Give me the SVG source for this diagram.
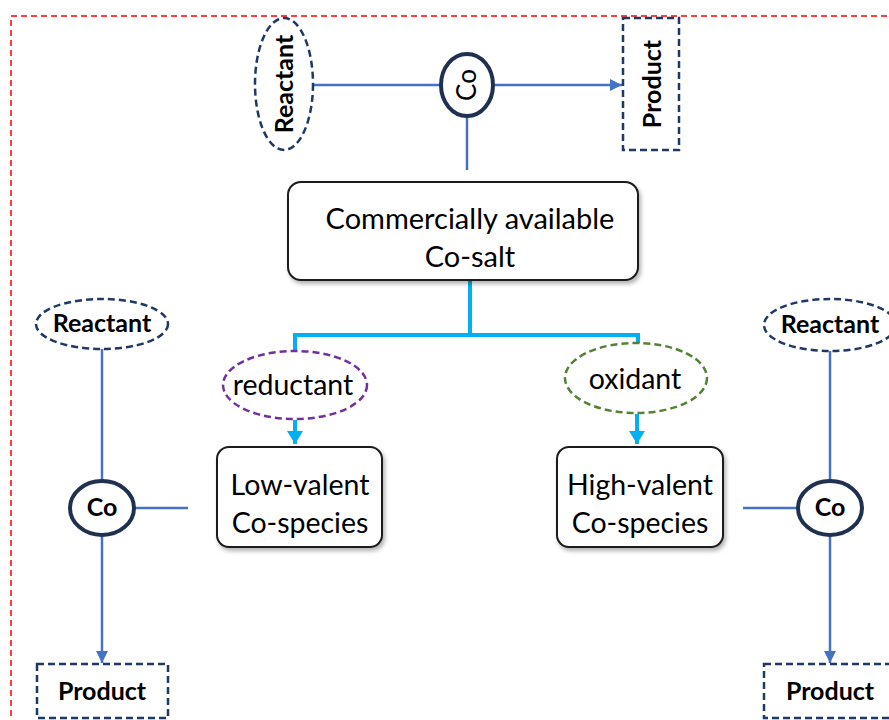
<svg xmlns="http://www.w3.org/2000/svg" width="889" height="720" viewBox="0 0 889 720">
  <defs>
    <style>
      .lbl { font-family: Lato, "Open Sans", "Liberation Sans", sans-serif; fill: #000; text-anchor: middle; }
      .bold { font-weight: bold; font-size: 25px; }
      .big { font-size: 29px; }
      .mid { font-size: 28.5px; }
      .navy { fill: #fff; stroke: #1f3864; stroke-width: 2.5; stroke-dasharray: 7 4; }
      .cocircle { fill: #fff; stroke: #1f3050; stroke-width: 4; }
      .box { fill: #fff; stroke: #1a1a1a; stroke-width: 2; filter: url(#shadow); }
      .blue { stroke: #4472c4; stroke-width: 2.5; fill: none; }
      .cyan { stroke: #00b0f0; stroke-width: 4; fill: none; }
    </style>
    <filter id="shadow" x="-10%" y="-10%" width="130%" height="140%">
      <feDropShadow dx="2" dy="3" stdDeviation="2" flood-color="#000" flood-opacity="0.3"/>
    </filter>
    <marker id="arrBlue" markerUnits="userSpaceOnUse" markerWidth="14" markerHeight="12" refX="12" refY="6" orient="auto">
      <path d="M0,0 L12,6 L0,12 Z" fill="#4472c4"/>
    </marker>
    <marker id="arrCyan" markerUnits="userSpaceOnUse" markerWidth="16" markerHeight="16" refX="13" refY="8" orient="auto">
      <path d="M0,0 L13,8 L0,16 Z" fill="#00b0f0"/>
    </marker>
  </defs>

  <rect width="889" height="720" fill="#fff"/>

  <!-- outer frame -->
  <rect x="11" y="16" width="900" height="720" fill="none" stroke="#ff0000" stroke-width="1.5" stroke-dasharray="6 4"/>

  <g id="connectors">
    <!-- top cycle -->
    <line class="blue" x1="313" y1="85" x2="440" y2="85"/>
    <line class="blue" x1="494" y1="85" x2="622" y2="85" marker-end="url(#arrBlue)"/>
    <line class="blue" x1="467" y1="117" x2="467" y2="170"/>
    <!-- branch from the salt box -->
    <path class="cyan" d="M470,280 V335 M295,352 V335 H638 V344"/>
    <line class="cyan" x1="295" y1="420" x2="295" y2="444" marker-end="url(#arrCyan)"/>
    <line class="cyan" x1="637" y1="414" x2="637" y2="444" marker-end="url(#arrCyan)"/>
    <!-- left cycle -->
    <line class="blue" x1="102" y1="349" x2="102" y2="480"/>
    <line class="blue" x1="135" y1="508" x2="188" y2="508"/>
    <line class="blue" x1="102" y1="536" x2="102" y2="663" marker-end="url(#arrBlue)"/>
    <!-- right cycle -->
    <line class="blue" x1="830" y1="351" x2="830" y2="481"/>
    <line class="blue" x1="743" y1="508" x2="798" y2="508"/>
    <line class="blue" x1="830" y1="536" x2="830" y2="663" marker-end="url(#arrBlue)"/>
  </g>

  <!-- top cycle nodes -->
  <g id="top-reactant">
    <ellipse class="navy" cx="284" cy="84" rx="29" ry="66"/>
    <text class="lbl bold" transform="translate(284,84) rotate(-90)" y="9">Reactant</text>
  </g>
  <g id="top-co">
    <ellipse class="cocircle" cx="467" cy="85" rx="26" ry="31"/>
    <text class="lbl" font-size="26" transform="translate(467,85) rotate(-90)" y="9">Co</text>
  </g>
  <g id="top-product">
    <rect class="navy" x="623" y="18" width="56" height="132" fill="#fff"/>
    <text class="lbl bold" transform="translate(652,84) rotate(-90)" y="9">Product</text>
  </g>

  <g id="salt">
    <rect class="box" x="288" y="182" width="350" height="98" rx="13"/>
    <text class="lbl big" x="470" y="229">Commercially available</text>
    <text class="lbl big" x="470" y="267">Co-salt</text>
  </g>

  <g id="reductant">
    <ellipse cx="295" cy="385" rx="72" ry="34" fill="#fff" stroke="#7030a0" stroke-width="2.5" stroke-dasharray="7 4"/>
    <text class="lbl mid" x="293" y="395">reductant</text>
  </g>
  <g id="oxidant">
    <ellipse cx="636" cy="378" rx="71" ry="35" fill="#fff" stroke="#548235" stroke-width="2.5" stroke-dasharray="7 4"/>
    <text class="lbl mid" x="635" y="389">oxidant</text>
  </g>

  <g id="low-valent">
    <rect class="box" x="217" y="447" width="165" height="100" rx="12"/>
    <text class="lbl mid" x="300" y="495">Low-valent</text>
    <text class="lbl mid" x="300" y="533">Co-species</text>
  </g>
  <g id="high-valent">
    <rect class="box" x="557" y="447" width="166" height="100" rx="12"/>
    <text class="lbl mid" x="640" y="495">High-valent</text>
    <text class="lbl mid" x="640" y="533">Co-species</text>
  </g>

  <!-- left cycle nodes -->
  <g id="left-reactant">
    <ellipse class="navy" cx="102" cy="324" rx="66" ry="25"/>
    <text class="lbl bold" x="102" y="332">Reactant</text>
  </g>
  <g id="left-co">
    <ellipse class="cocircle" cx="102" cy="508" rx="32" ry="27"/>
    <text class="lbl bold" font-size="23" x="102" y="516">Co</text>
  </g>
  <g id="left-product">
    <rect class="navy" x="37" y="664" width="131" height="54"/>
    <text class="lbl bold" x="102" y="700">Product</text>
  </g>

  <!-- right cycle nodes -->
  <g id="right-reactant">
    <ellipse class="navy" cx="830" cy="325" rx="66" ry="26"/>
    <text class="lbl bold" x="830" y="333">Reactant</text>
  </g>
  <g id="right-co">
    <ellipse class="cocircle" cx="830" cy="508" rx="32" ry="27"/>
    <text class="lbl bold" font-size="23" x="830" y="516">Co</text>
  </g>
  <g id="right-product">
    <rect class="navy" x="764" y="664" width="140" height="54"/>
    <text class="lbl bold" x="830" y="700">Product</text>
  </g>
</svg>
